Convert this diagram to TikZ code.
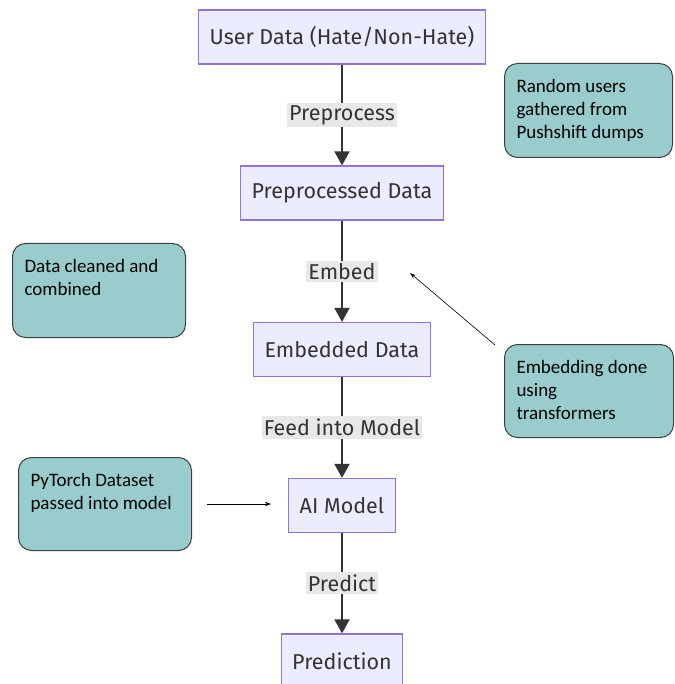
\documentclass[tikz,border=0pt]{standalone}
\usepackage{fontspec}
\setmainfont{Fira Sans}
\newfontfamily\notefont{Carlito}
\usetikzlibrary{arrows.meta}
\definecolor{boxfill}{HTML}{ECECFF}
\definecolor{boxline}{HTML}{9370DB}
\definecolor{txt}{HTML}{333333}
\definecolor{lblfill}{HTML}{E8E8E8}
\definecolor{notefill}{HTML}{99CCCC}
\definecolor{noteline}{HTML}{3F3F3F}
\newcommand{\notetext}[3]{\parbox[c][#2][t]{#1}{\raggedright\strut #3}}

\begin{document}
\begin{tikzpicture}[x=1pt, y=-1pt,
    box/.style={draw=boxline, fill=boxfill, line width=1.3pt, text=txt, font=\fontsize{21.5}{25}\selectfont, minimum height=54pt, inner xsep=11pt},
    lbl/.style={fill=lblfill, text=txt, font=\fontsize{21.5}{25}\selectfont, inner xsep=2pt, inner ysep=2.5pt},
    flow/.style={draw=txt, line width=2pt, -{Triangle[width=15pt, length=14pt]}},
    note/.style={draw=noteline, fill=notefill, line width=1pt, rounded corners=13pt, anchor=north west, inner xsep=12pt, inner ysep=13pt, font=\notefont\fontsize{19}{23}\selectfont},
    ptr/.style={-{Stealth[length=6pt, width=4pt]}, line width=0.6pt}]
    \useasboundingbox (0,0) rectangle (674,684);
    % main flow
    \node [box] (user) at (342,37) {User Data (Hate/Non-Hate)};
    \node [box] (prep) at (342,193) {Preprocessed Data};
    \node [box] (emb) at (342,349.5) {Embedded Data};
    \node [box] (model) at (342,505.5) {AI Model};
    \node [box] (pred) at (342,661) {Prediction};
    \draw [flow] (user) -- node [lbl] {Preprocess} (prep);
    \draw [flow] (prep) -- node [lbl] {Embed} (emb);
    \draw [flow] (emb) -- node [lbl] {Feed into Model} (model);
    \draw [flow] (model) -- node [lbl] {Predict} (pred);
    % side notes
    \node [note] (users) at (504,63) {\notetext{144pt}{68pt}{Random users\\gathered from\\Pushshift dumps}};
    \node [note] (clean) at (12,243) {\notetext{149pt}{68pt}{Data cleaned and\\combined}};
    \node [note] (trans) at (504,344) {\notetext{145pt}{67pt}{Embedding done\\using\\transformers}};
    \node [note] (torch) at (18,457) {\notetext{149pt}{67pt}{PyTorch Dataset\\passed into model}};
    \coordinate (transtail) at (495,345);
    \coordinate (transtip) at (410,273);
    \coordinate (torchtail) at (207,504);
    \coordinate (torchtip) at (271,504);
    \draw [ptr] (transtail) -- (transtip);
    \draw [ptr] (torchtail) -- (torchtip);
\end{tikzpicture}
\end{document}
